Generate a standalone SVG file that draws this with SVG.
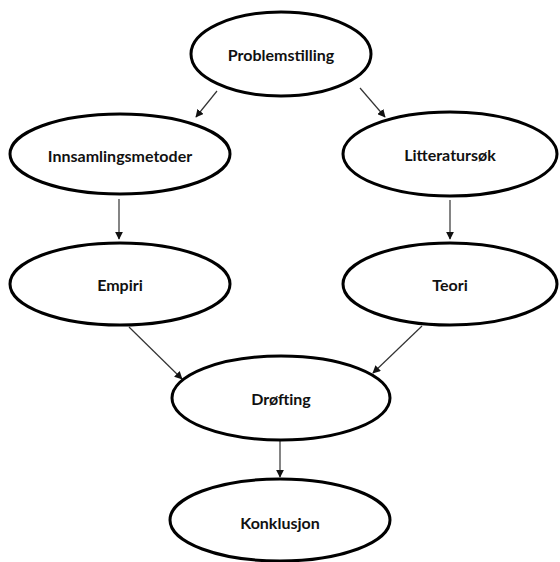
<svg xmlns="http://www.w3.org/2000/svg" width="560" height="562" viewBox="0 0 560 562">
<style>
.n ellipse{fill:#fff;stroke:#000;stroke-width:3}
.n text{font-family:Lato,"Open Sans",sans-serif;font-weight:bold;font-size:16px;fill:#111;text-anchor:middle;dominant-baseline:central}
.c line{stroke:#333;stroke-width:1.2;marker-end:url(#ah)}
</style>
<defs>
<marker id="ah" viewBox="0 0 10 10" refX="9" refY="5" markerWidth="8" markerHeight="8" markerUnits="userSpaceOnUse" orient="auto">
<path d="M0,0 L10,5 L0,10 z" fill="#111"/>
</marker>
</defs>
<rect width="560" height="562" fill="#fff"/>
<g id="connectors" class="c">
<line x1="217" y1="91" x2="196" y2="117"/>
<line x1="360" y1="88" x2="385" y2="117"/>
<line x1="119" y1="199" x2="119" y2="239"/>
<line x1="450" y1="200" x2="450" y2="239"/>
<line x1="129" y1="327" x2="182" y2="379"/>
<line x1="422" y1="326" x2="373" y2="373"/>
<line x1="280" y1="441" x2="280" y2="477"/>
</g>
<g id="problemstilling" class="n"><ellipse cx="281" cy="54" rx="90" ry="42"/><text x="281" y="54">Problemstilling</text></g>
<g id="innsamlingsmetoder" class="n"><ellipse cx="120" cy="154" rx="110" ry="40"/><text x="120" y="155">Innsamlingsmetoder</text></g>
<g id="litteratursok" class="n"><ellipse cx="450" cy="154" rx="107" ry="42"/><text x="450" y="154">Litteratursøk</text></g>
<g id="empiri" class="n"><ellipse cx="120" cy="284" rx="110" ry="41"/><text x="120" y="284">Empiri</text></g>
<g id="teori" class="n"><ellipse cx="450" cy="284" rx="107" ry="41"/><text x="450" y="284">Teori</text></g>
<g id="drofting" class="n"><ellipse cx="281" cy="398" rx="109" ry="42"/><text x="281" y="398">Drøfting</text></g>
<g id="konklusjon" class="n"><ellipse cx="280" cy="520" rx="110" ry="41"/><text x="280" y="522">Konklusjon</text></g>
</svg>
